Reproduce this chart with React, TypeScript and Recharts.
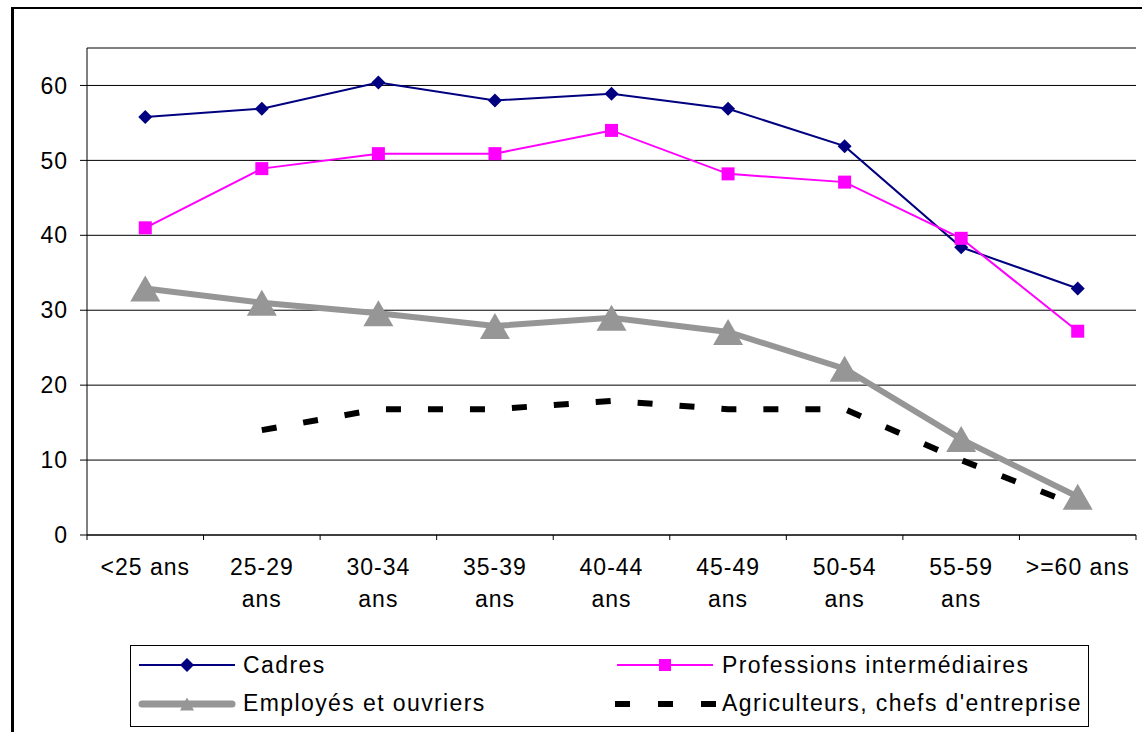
import React from "react";
import { LineChart, Line, XAxis, YAxis, CartesianGrid, Legend } from "recharts";

// ---- data ----
const ageGroups = ["<25 ans", "25-29 ans", "30-34 ans", "35-39 ans", "40-44 ans", "45-49 ans", "50-54 ans", "55-59 ans", ">=60 ans"];
const tickLabels = ["<25 ans", "25-29\nans", "30-34\nans", "35-39\nans", "40-44\nans", "45-49\nans", "50-54\nans", "55-59\nans", ">=60 ans"];
const cadres = [55.8, 56.9, 60.4, 58.0, 58.9, 56.9, 51.9, 38.4, 32.9];
const professions = [41.0, 48.9, 50.9, 50.9, 54.0, 48.2, 47.1, 39.6, 27.2];
const employes = [32.9, 31.0, 29.6, 27.9, 29.0, 27.1, 22.2, 12.8, 5.1];
const agriculteurs: (number | null)[] = [null, 14.0, 16.8, 16.8, 17.9, 16.8, 16.8, 10.0, 3.9];
const yTicks = [0, 10, 20, 30, 40, 50, 60];
const seriesNames = ["Cadres", "Professions intermédiaires", "Employés et ouvriers", "Agriculteurs, chefs d'entreprise"];

const data = ageGroups.map((g, i) => ({
  x: i + 0.5,
  group: g,
  cadres: cadres[i],
  professions: professions[i],
  employes: employes[i],
  agriculteurs: agriculteurs[i],
}));

const xTicks: number[] = [];
for (let i = 0; i <= ageGroups.length * 2; i++) xTicks.push(i / 2);

const FONT = "'Liberation Sans', Arial, sans-serif";
const NAVY = "#000080";
const MAGENTA = "#FF00FF";
const GRAY = "#969696";

const Diamond = ({ cx, cy, r = 7 }: any) => (
  <polygon points={`${cx},${cy - r} ${cx + r},${cy} ${cx},${cy + r} ${cx - r},${cy}`} fill={NAVY} stroke="none" />
);
const Square = ({ cx, cy, s = 13 }: any) => (
  <rect x={cx - s / 2} y={cy - s / 2} width={s} height={s} fill={MAGENTA} stroke="none" />
);
const Triangle = ({ cx, cy, w = 30, h = 26 }: any) => (
  <polygon points={`${cx},${cy - h / 2} ${cx + w / 2},${cy + h / 2} ${cx - w / 2},${cy + h / 2}`} fill={GRAY} stroke="none" />
);

const dotFn = (Shape: any) => (props: any) => {
  const { cx, cy, index } = props;
  if (cx == null || cy == null) return <g key={`d-${index}`} />;
  return (
    <g key={`d-${index}`}>
      <Shape cx={cx} cy={cy} />
    </g>
  );
};

const XTick = (props: any) => {
  const { x, y, payload } = props;
  const v = payload.value as number;
  if (Math.abs(v - Math.round(v)) < 1e-6) {
    return <line x1={x} x2={x} y1={y - 5} y2={y} stroke="#000" strokeWidth={1} />;
  }
  const lines = tickLabels[Math.floor(v)].split("\n");
  return (
    <g>
      {lines.map((t, i) => (
        <text
          key={i}
          x={x}
          y={y + 35 + i * 31.5}
          textAnchor="middle"
          fontFamily={FONT}
          fontSize={23}
          letterSpacing={1}
          fill="#000"
        >
          {t}
        </text>
      ))}
    </g>
  );
};

const LegendContent = () => {
  const r1 = 20;
  const r2 = 59;
  const tStyle = { fontFamily: FONT, fontSize: 23, letterSpacing: 1.4, fill: "#000" } as any;
  return (
    <svg width={960} height={83} style={{ display: "block" }}>
      <rect x={0.5} y={0.5} width={958} height={81} fill="#fff" stroke="#000" strokeWidth={1} />
      {/* Cadres */}
      <line x1={9} x2={105} y1={r1} y2={r1} stroke={NAVY} strokeWidth={2} />
      <Diamond cx={57} cy={r1} r={7} />
      <text x={113} y={r1 + 8} {...tStyle}>{seriesNames[0]}</text>
      {/* Professions */}
      <line x1={487} x2={583} y1={r1} y2={r1} stroke={MAGENTA} strokeWidth={2} />
      <Square cx={535} cy={r1} s={12} />
      <text x={592} y={r1 + 8} {...tStyle}>{seriesNames[1]}</text>
      {/* Employés */}
      <line x1={12} x2={102} y1={r2} y2={r2} stroke={GRAY} strokeWidth={7} strokeLinecap="round" />
      <Triangle cx={57} cy={r2} w={14} h={13} />
      <text x={113} y={r2 + 7} {...tStyle}>{seriesNames[2]}</text>
      {/* Agriculteurs */}
      <line x1={485} x2={586} y1={r2} y2={r2} stroke="#000" strokeWidth={6} strokeDasharray="15 28" />
      <text x={592} y={r2 + 7} {...tStyle}>{seriesNames[3]}</text>
    </svg>
  );
};

export default function App() {
  return (
    <div style={{ position: "absolute", left: 0, top: 0, width: 1142, height: 732, overflow: "hidden", background: "#fff" }}>
      <div
        style={{
          position: "absolute",
          left: 11,
          top: 7,
          width: 1200,
          height: 800,
          borderLeft: "3px solid #000",
          borderTop: "2px solid #000",
        }}
      />
      <div style={{ position: "absolute", left: 0, top: 0 }}>
        <LineChart
          width={1142}
          height={732}
          data={data}
          margin={{ top: 48, right: 6, bottom: 34, left: 27 }}
        >
          <CartesianGrid vertical={false} stroke="#000" strokeWidth={1} />
          <XAxis
            dataKey="x"
            type="number"
            domain={[0, 9]}
            ticks={xTicks}
            interval={0}
            tick={<XTick />}
            tickLine={false}
            tickSize={5}
            tickMargin={0}
            height={80}
            axisLine={{ stroke: "#000", strokeWidth: 1 }}
            allowDataOverflow
          />
          <YAxis
            type="number"
            domain={[0, 65]}
            ticks={yTicks}
            interval={0}
            width={60}
            tickSize={7}
            tickMargin={12}
            axisLine={{ stroke: "#000", strokeWidth: 1 }}
            tickLine={{ stroke: "#000", strokeWidth: 1 }}
            tick={{ fontFamily: FONT, fontSize: 23, letterSpacing: 1, fill: "#000" } as any}
            allowDataOverflow
          />
          <Legend
            verticalAlign="bottom"
            content={<LegendContent />}
            wrapperStyle={{ left: 130, top: 645, width: 960, height: 83, bottom: "auto" }}
          />
          <Line
            dataKey="cadres"
            name={seriesNames[0]}
            stroke={NAVY}
            strokeWidth={2}
            dot={dotFn(Diamond)}
            activeDot={false}
            isAnimationActive={false}
          />
          <Line
            dataKey="professions"
            name={seriesNames[1]}
            stroke={MAGENTA}
            strokeWidth={2}
            dot={dotFn(Square)}
            activeDot={false}
            isAnimationActive={false}
          />
          <Line
            dataKey="employes"
            name={seriesNames[2]}
            stroke={GRAY}
            strokeWidth={6}
            dot={dotFn(Triangle)}
            activeDot={false}
            isAnimationActive={false}
          />
          <Line
            dataKey="agriculteurs"
            name={seriesNames[3]}
            stroke="#000"
            strokeWidth={6}
            strokeDasharray="15 27"
            dot={false}
            activeDot={false}
            connectNulls={false}
            isAnimationActive={false}
          />
        </LineChart>
      </div>
    </div>
  );
}
